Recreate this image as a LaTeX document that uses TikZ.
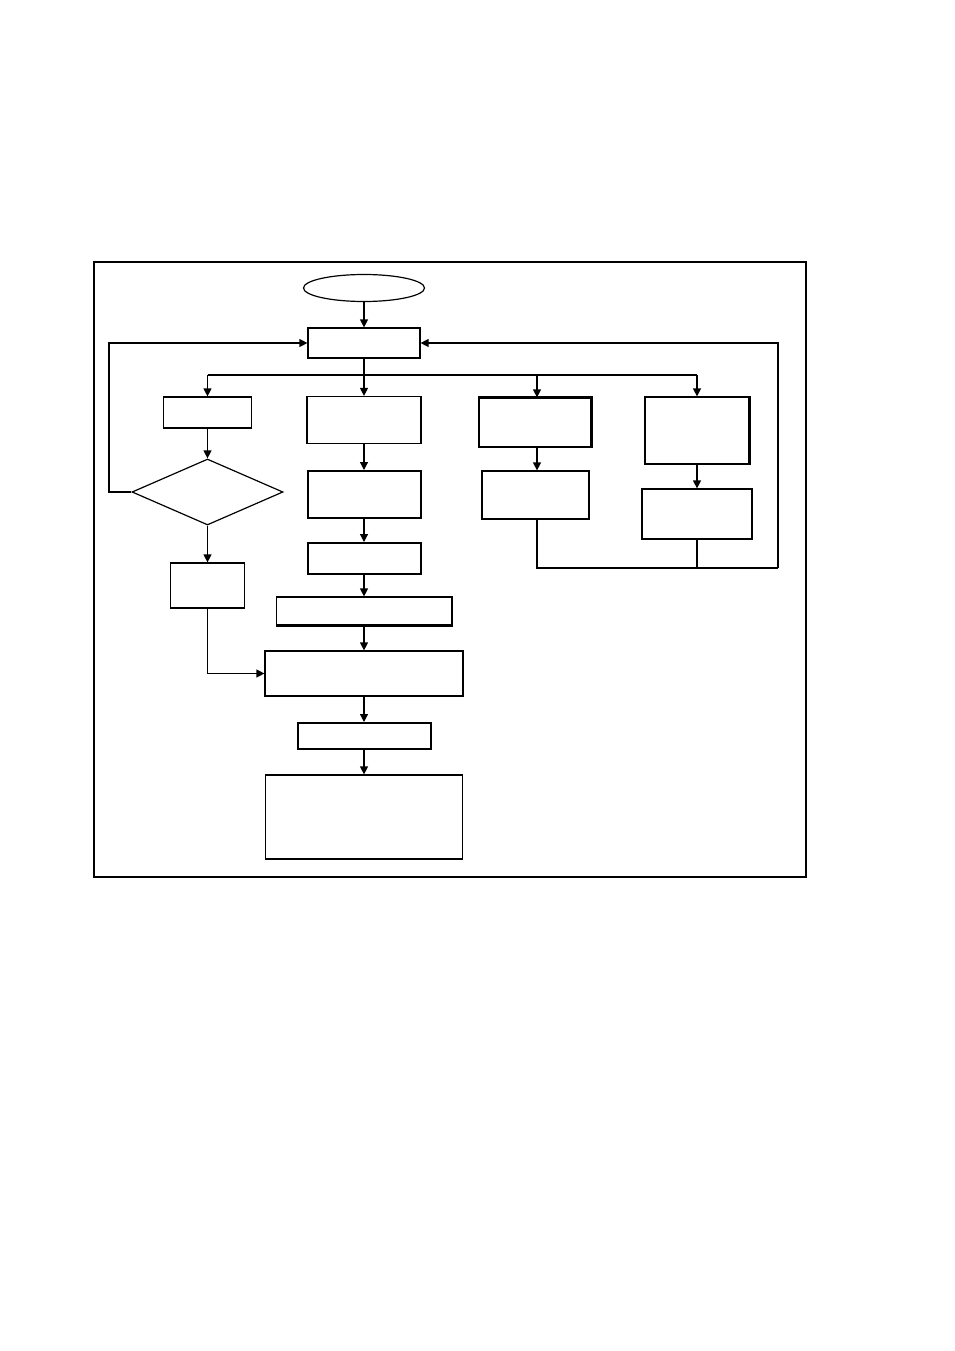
\documentclass[tikz,border=0pt]{standalone}
\usetikzlibrary{arrows.meta,shapes.geometric}
\begin{document}
\begin{tikzpicture}[x=1bp,y=-1bp,
  line width=1.2bp,
  box/.style={draw,rectangle,inner sep=0pt,line width=1.2bp},
  thick box/.style={box,line width=2bp},
  arr/.style={-{Triangle[length=8bp,width=8bp]}},
  ln/.style={line width=1.2bp}]
\useasboundingbox (0,0) rectangle (954,1351);
% frame
\draw[ln] (94,262) rectangle (806,877);
\draw[line width=2bp] (94,262) -- (94,877);
% nodes
\node[draw,ellipse,inner sep=0pt,minimum width=121bp,minimum height=27bp] (start) at (364,288) {};
\node[box,minimum width=112bp,minimum height=30bp] (A) at (364,343) {};
\node[box,minimum width=88bp,minimum height=31bp] (L1) at (207.5,412.5) {};
\node[draw,diamond,inner sep=0pt,aspect=2.29,minimum width=151bp,minimum height=66bp] (dia) at (207.5,492) {};
\node[box,minimum width=74bp,minimum height=45bp] (L2) at (207.5,585.5) {};
\node[box,minimum width=114bp,minimum height=47bp] (B) at (364,420) {};
\node[thick box,minimum width=113bp,minimum height=47bp] (C) at (364,494.5) {};
\node[thick box,minimum width=113bp,minimum height=31bp] (D) at (364,558.5) {};
\node[box,minimum width=175bp,minimum height=28bp] (E) at (364,611) {};
\node[box,minimum width=198bp,minimum height=45bp] (F) at (364,673.5) {};
\node[thick box,minimum width=133bp,minimum height=26bp] (G) at (364,736) {};
\node[box,minimum width=197bp,minimum height=84bp] (H) at (364,817) {};
\node[box,minimum width=112bp,minimum height=49bp] (R1) at (535,422.5) {};
\node[box,minimum width=107bp,minimum height=48bp] (R2) at (535.5,495) {};
\node[box,minimum width=104bp,minimum height=67bp] (S1) at (697,430.5) {};
\node[box,minimum width=110bp,minimum height=50bp] (S2) at (697,514) {};
% thicker edges
\draw[line width=2bp] (E.north east) -- (E.south east) -- (E.south west);
\draw[line width=2bp] (R1.north west) -- (R1.north east) -- (R1.south east);
\draw[line width=2bp] (S1.north east) -- (S1.south east);
% helper coordinates
\coordinate (busL) at (207.5,375);
\coordinate (busM) at (537,375);
\coordinate (busR) at (697,375);
\coordinate (rc) at (778,568);
\coordinate (lc) at (109,492);
% connectors
\draw[arr] (start.south) -- (A.north);
\draw[arr] (A.south) -- (B.north);
\draw[ln] (busL) -- (busR);
\draw[arr] (busL) -- (L1.north);
\draw[arr] (busM) -- (busM |- R1.north);
\draw[arr] (busR) -- (S1.north);
\draw[arr] (L1.south) -- (dia.north);
\draw[arr] (dia.west) -- (lc) |- (A.west);
\draw[arr] (dia.south) -- (L2.north);
\draw[arr] (L2.south) |- (F.west);
\draw[arr] (B.south) -- (C.north);
\draw[arr] (C.south) -- (D.north);
\draw[arr] (D.south) -- (E.north);
\draw[arr] (E.south) -- (F.north);
\draw[arr] (F.south) -- (G.north);
\draw[arr] (G.south) -- (H.north);
\draw[arr] (busM |- R1.south) -- (busM |- R2.north);
\draw[arr] (S1.south) -- (S2.north);
\draw[ln] (busM |- R2.south) |- (rc);
\draw[ln] (S2.south) -- (S2.south |- rc);
\draw[arr] (rc) |- (A.east);
\end{tikzpicture}
\end{document}
